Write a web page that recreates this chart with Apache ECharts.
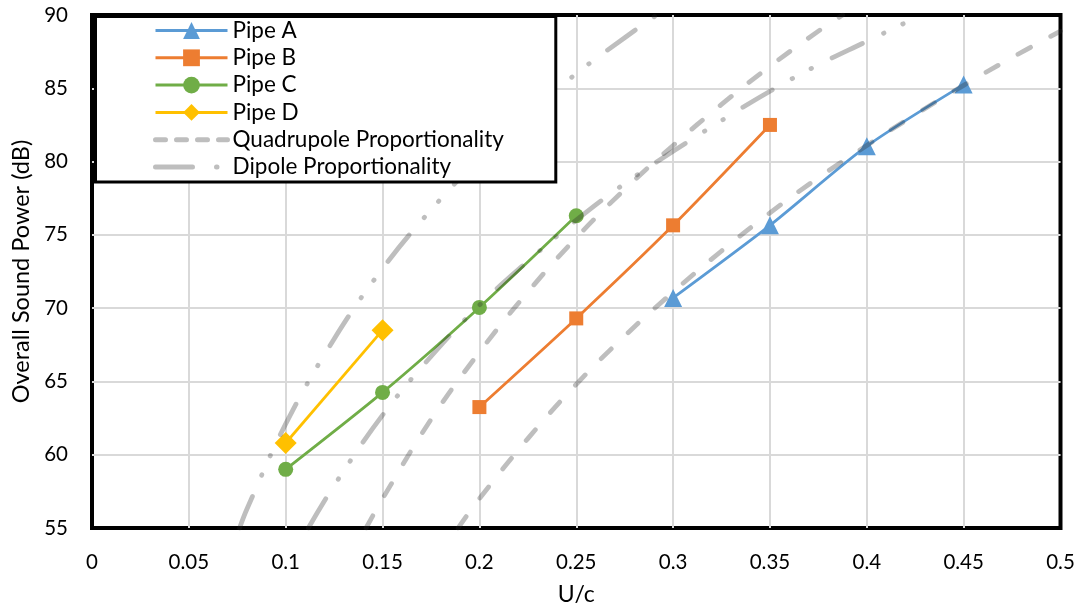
<!DOCTYPE html>
<html>
<head>
<meta charset="utf-8">
<script src="https://cdn.jsdelivr.net/npm/echarts@6/dist/echarts.min.js"></script>
<style>
html,body{margin:0;padding:0;background:#fff;}
#chart{width:1083px;height:611px;}
</style>
</head>
<body>
<div id="chart"></div>
<script>
// ---- data ----
const xTicks = [0, 0.05, 0.1, 0.15, 0.2, 0.25, 0.3, 0.35, 0.4, 0.45, 0.5];
const yTicks = [55, 60, 65, 70, 75, 80, 85, 90];

const pipeA = [[0.30, 70.7], [0.35, 75.65], [0.40, 81.05], [0.45, 85.25]];
const pipeB = [[0.20, 63.25], [0.25, 69.3], [0.30, 75.65], [0.35, 82.5]];
const pipeC = [[0.10, 59.0], [0.15, 64.25], [0.20, 70.05], [0.25, 76.3]];
const pipeD = [[0.10, 60.8], [0.15, 68.5]];

// quadrupole proportionality guide curves
const quad1 = [[0.189, 55.0], [0.2, 57.0], [0.225, 61.1], [0.25, 64.8], [0.275, 68.1], [0.3, 71.1],
  [0.325, 73.9], [0.35, 76.5], [0.375, 78.9], [0.4, 81.1], [0.425, 83.2], [0.45, 85.2],
  [0.475, 87.1], [0.5, 88.9]];
const quad2 = [[0.1415, 55.0], [0.15, 57.0], [0.175, 62.4], [0.2, 67.0], [0.225, 71.1], [0.25, 74.8],
  [0.275, 78.1], [0.3, 81.1], [0.325, 83.9], [0.35, 86.5], [0.375, 88.9], [0.3875, 90.0]];
// dipole proportionality guide curves
const dip1 = [[0.0762, 55.0], [0.08, 56.3], [0.1, 62.1], [0.125, 67.9], [0.15, 72.7], [0.175, 76.7],
  [0.2, 80.2], [0.225, 83.2], [0.25, 86.0], [0.275, 88.45], [0.2915, 90.0]];
const dip2 = [[0.1117, 55.0], [0.125, 57.9], [0.15, 62.7], [0.175, 66.7], [0.2, 70.2], [0.225, 73.2],
  [0.25, 76.0], [0.275, 78.5], [0.3, 80.7], [0.325, 82.8], [0.35, 84.8], [0.375, 86.6],
  [0.4, 88.2], [0.425, 89.8], [0.428, 90.0]];

const FONT = 'Lato, "Liberation Sans", sans-serif';
const GREY = 'rgba(40,40,40,0.3)';
const TRANSPARENT = 'rgba(0,0,0,0)';
const quadDash = [14, 23];
const dipDash = [34, 23, 0.5, 21, 0.5, 23];

function pipeSeries(name, data, color, symbol, size) {
  return {
    name: name, type: 'line', data: data, smooth: 0.25,
    symbol: symbol, symbolSize: size, showSymbol: true,
    lineStyle: { color: color, width: 2.75 },
    itemStyle: { color: color },
    emphasis: { disabled: true }, z: 2
  };
}
function guideSeries(name, data, dash) {
  return {
    name: name, type: 'line', data: data, smooth: 0.4,
    symbol: 'circle', showSymbol: false, symbolSize: 0,
    lineStyle: { color: GREY, width: 4.75, type: dash, cap: 'round', join: 'round' },
    itemStyle: { color: TRANSPARENT },
    emphasis: { disabled: true }, z: 3, silent: true
  };
}

const chart = echarts.init(document.getElementById('chart'), null, { renderer: 'canvas' });
chart.setOption({
  animation: false,
  backgroundColor: '#fff',
  grid: {
    left: 92, right: 22.5, top: 15, bottom: 79.7,
    show: true, borderColor: '#000', borderWidth: 4, backgroundColor: '#fff'
  },
  xAxis: {
    type: 'value', min: 0, max: 0.5, interval: 0.05,
    name: 'U/c', nameLocation: 'middle', nameGap: 55,
    nameTextStyle: { fontFamily: FONT, fontSize: 23, color: '#000' },
    axisLine: { show: false }, axisTick: { show: false },
    axisLabel: {
      fontFamily: FONT, fontSize: 20.5, color: '#000', margin: 24,
      formatter: v => String(xTicks.find(t => Math.abs(t - v) < 1e-6) ?? v)
    },
    splitLine: { show: true, showMinLine: false, showMaxLine: false, lineStyle: { color: '#d9d9d9', width: 2 } }
  },
  yAxis: {
    type: 'value', min: 55, max: 90, interval: 5,
    name: 'Overall Sound Power (dB)', nameLocation: 'middle', nameGap: 58,
    nameTextStyle: { fontFamily: FONT, fontSize: 23.5, color: '#000' },
    axisLine: { show: false }, axisTick: { show: false },
    axisLabel: {
      fontFamily: FONT, fontSize: 20.5, color: '#000', margin: 24,
      formatter: v => String(yTicks.find(t => Math.abs(t - v) < 1e-6) ?? v)
    },
    splitLine: { show: true, showMinLine: false, showMaxLine: false, lineStyle: { color: '#d9d9d9', width: 2 } }
  },
  legend: {
    orient: 'vertical', left: 95.5, top: 16.5,
    padding: [2.5, 52, 3.5, 57.5],
    itemWidth: 72, itemHeight: 21, itemGap: 4.3,
    backgroundColor: '#fff', borderColor: '#000', borderWidth: 3, borderRadius: 0,
    selectedMode: false,
    textStyle: { fontFamily: FONT, fontSize: 22.5, lineHeight: 21, color: '#000' },
    data: [
      { name: 'Pipe A', lineStyle: { width: 3 } },
      { name: 'Pipe B', lineStyle: { width: 3 } },
      { name: 'Pipe C', lineStyle: { width: 3 } },
      { name: 'Pipe D', lineStyle: { width: 3 } },
      { name: 'Quadrupole Proportionality', lineStyle: { type: [10, 11], width: 5, cap: 'round' }, itemStyle: { color: TRANSPARENT } },
      { name: 'Dipole Proportionality', lineStyle: { type: [37, 24, 0.5, 40], width: 5, cap: 'round' }, itemStyle: { color: TRANSPARENT } }
    ]
  },
  series: [
    pipeSeries('Pipe A', pipeA, '#5B9BD5', 'triangle', 18),
    pipeSeries('Pipe B', pipeB, '#ED7D31', 'rect', 14),
    pipeSeries('Pipe C', pipeC, '#70AD47', 'circle', 15),
    pipeSeries('Pipe D', pipeD, '#FFC000', 'diamond', 22),
    guideSeries('Quadrupole Proportionality', quad1, quadDash),
    guideSeries('Quadrupole Proportionality', quad2, quadDash),
    guideSeries('Dipole Proportionality', dip1, dipDash),
    guideSeries('Dipole Proportionality', dip2, dipDash)
  ]
});
</script>
</body>
</html>
